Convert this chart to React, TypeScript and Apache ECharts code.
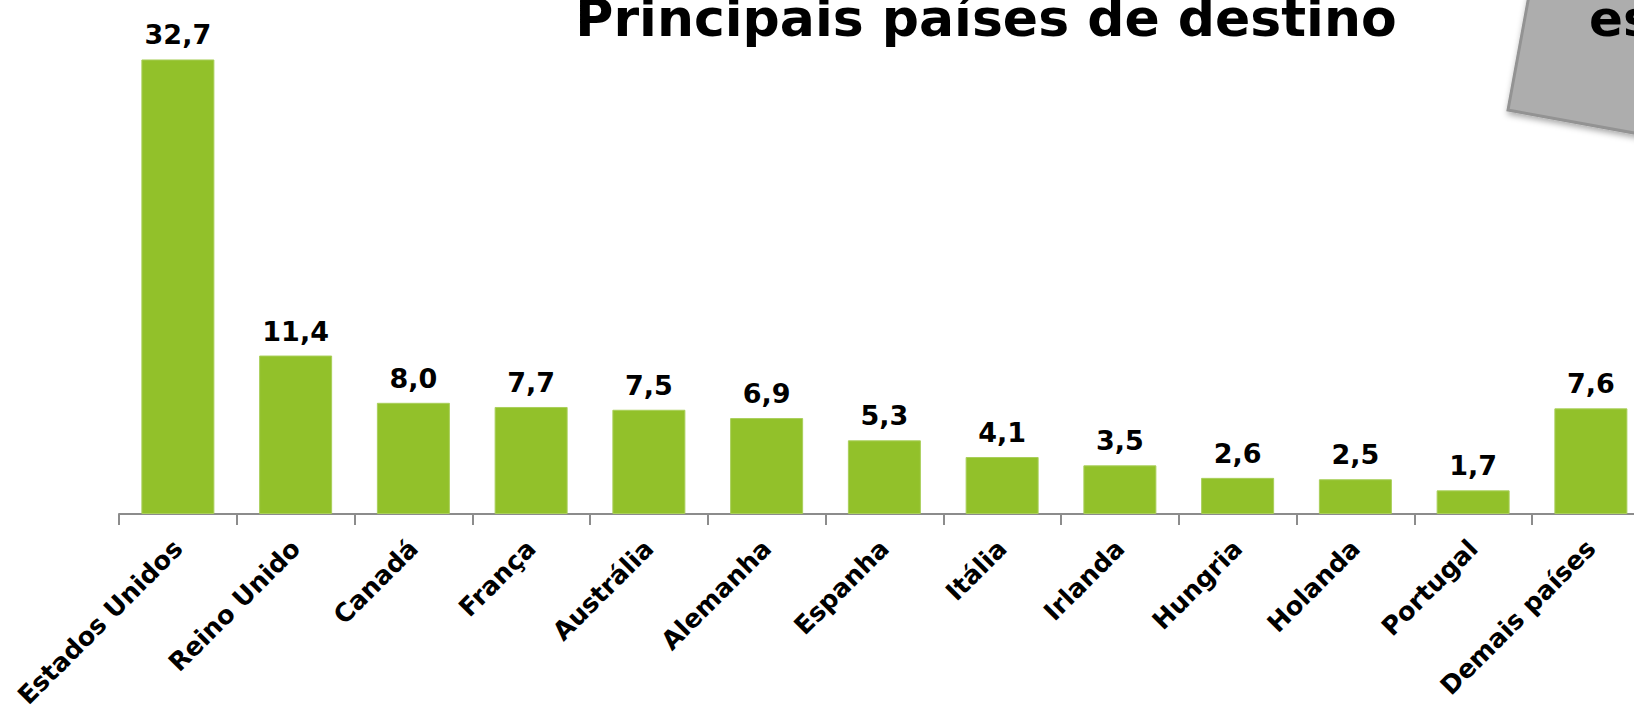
import React, { useEffect, useRef } from "react";
import * as echarts from "echarts";

const categories = [
  "Estados Unidos",
  "Reino Unido",
  "Canadá",
  "França",
  "Austrália",
  "Alemanha",
  "Espanha",
  "Itália",
  "Irlanda",
  "Hungria",
  "Holanda",
  "Portugal",
  "Demais países",
];
const values = [32.7, 11.4, 8.0, 7.7, 7.5, 6.9, 5.3, 4.1, 3.5, 2.6, 2.5, 1.7, 7.6];
const titleText = "Principais países de destino";
const boxText = "es";

export default function App() {
  const ref = useRef<HTMLDivElement>(null);
  useEffect(() => {
    if (!ref.current) return;
    const chart = echarts.init(ref.current, undefined, { renderer: "svg" });
    chart.setOption({
      animation: false,
      backgroundColor: "#ffffff",
      grid: {
        left: 119,
        right: 50.25,
        top: 27.5,
        bottom: 196,
        containLabel: false,
        outerBoundsMode: "none",
      },
      xAxis: {
        type: "category",
        data: categories,
        axisLine: { lineStyle: { color: "#8c8c8c", width: 2 } },
        axisTick: { show: true, length: 11, lineStyle: { color: "#8c8c8c", width: 2 } },
        axisLabel: {
          rotate: 45,
          margin: 30,
          interval: 0,
          color: "#000000",
          fontFamily: "DejaVu Sans",
          fontWeight: "bold",
          fontSize: 25.5,
        },
      },
      yAxis: {
        type: "value",
        min: 0,
        max: 35,
        show: false,
        splitLine: { show: false },
      },
      series: [
        {
          type: "bar",
          data: values,
          barWidth: 73,
          itemStyle: { color: "#92c12a", borderColor: "#a9cf5a", borderWidth: 1 },
          label: {
            show: true,
            position: "top",
            distance: 11,
            color: "#000000",
            fontFamily: "DejaVu Sans",
            fontWeight: "bold",
            fontSize: 27,
            formatter: (p: any) => p.value.toFixed(1).replace(".", ","),
          },
        },
      ],
      graphic: [
        {
          type: "text",
          x: 986,
          y: -8,
          style: {
            text: titleText,
            textAlign: "center",
            textVerticalAlign: "top",
            fill: "#000000",
            fontFamily: "DejaVu Sans",
            fontWeight: "bold",
            fontSize: 52,
          },
        },
        {
          type: "polygon",
          shape: {
            points: [
              [1530, -10],
              [1508, 110],
              [1700, 145],
              [1700, -10],
            ],
          },
          style: {
            fill: "#adadad",
            stroke: "#939393",
            lineWidth: 3,
            shadowBlur: 6,
            shadowColor: "rgba(0,0,0,0.35)",
            shadowOffsetX: 1,
            shadowOffsetY: 3,
          },
        },
        {
          type: "text",
          x: 1589,
          y: -6,
          style: {
            text: boxText,
            textAlign: "left",
            textVerticalAlign: "top",
            fill: "#000000",
            fontFamily: "DejaVu Sans",
            fontWeight: "bold",
            fontSize: 50,
          },
        },
      ],
    });
    return () => chart.dispose();
  }, []);
  return (
    <div
      style={{
        position: "fixed",
        left: 0,
        top: 0,
        width: 1634,
        height: 710,
        overflow: "hidden",
        background: "#ffffff",
      }}
    >
      <div ref={ref} style={{ width: 1700, height: 710 }} />
    </div>
  );
}
